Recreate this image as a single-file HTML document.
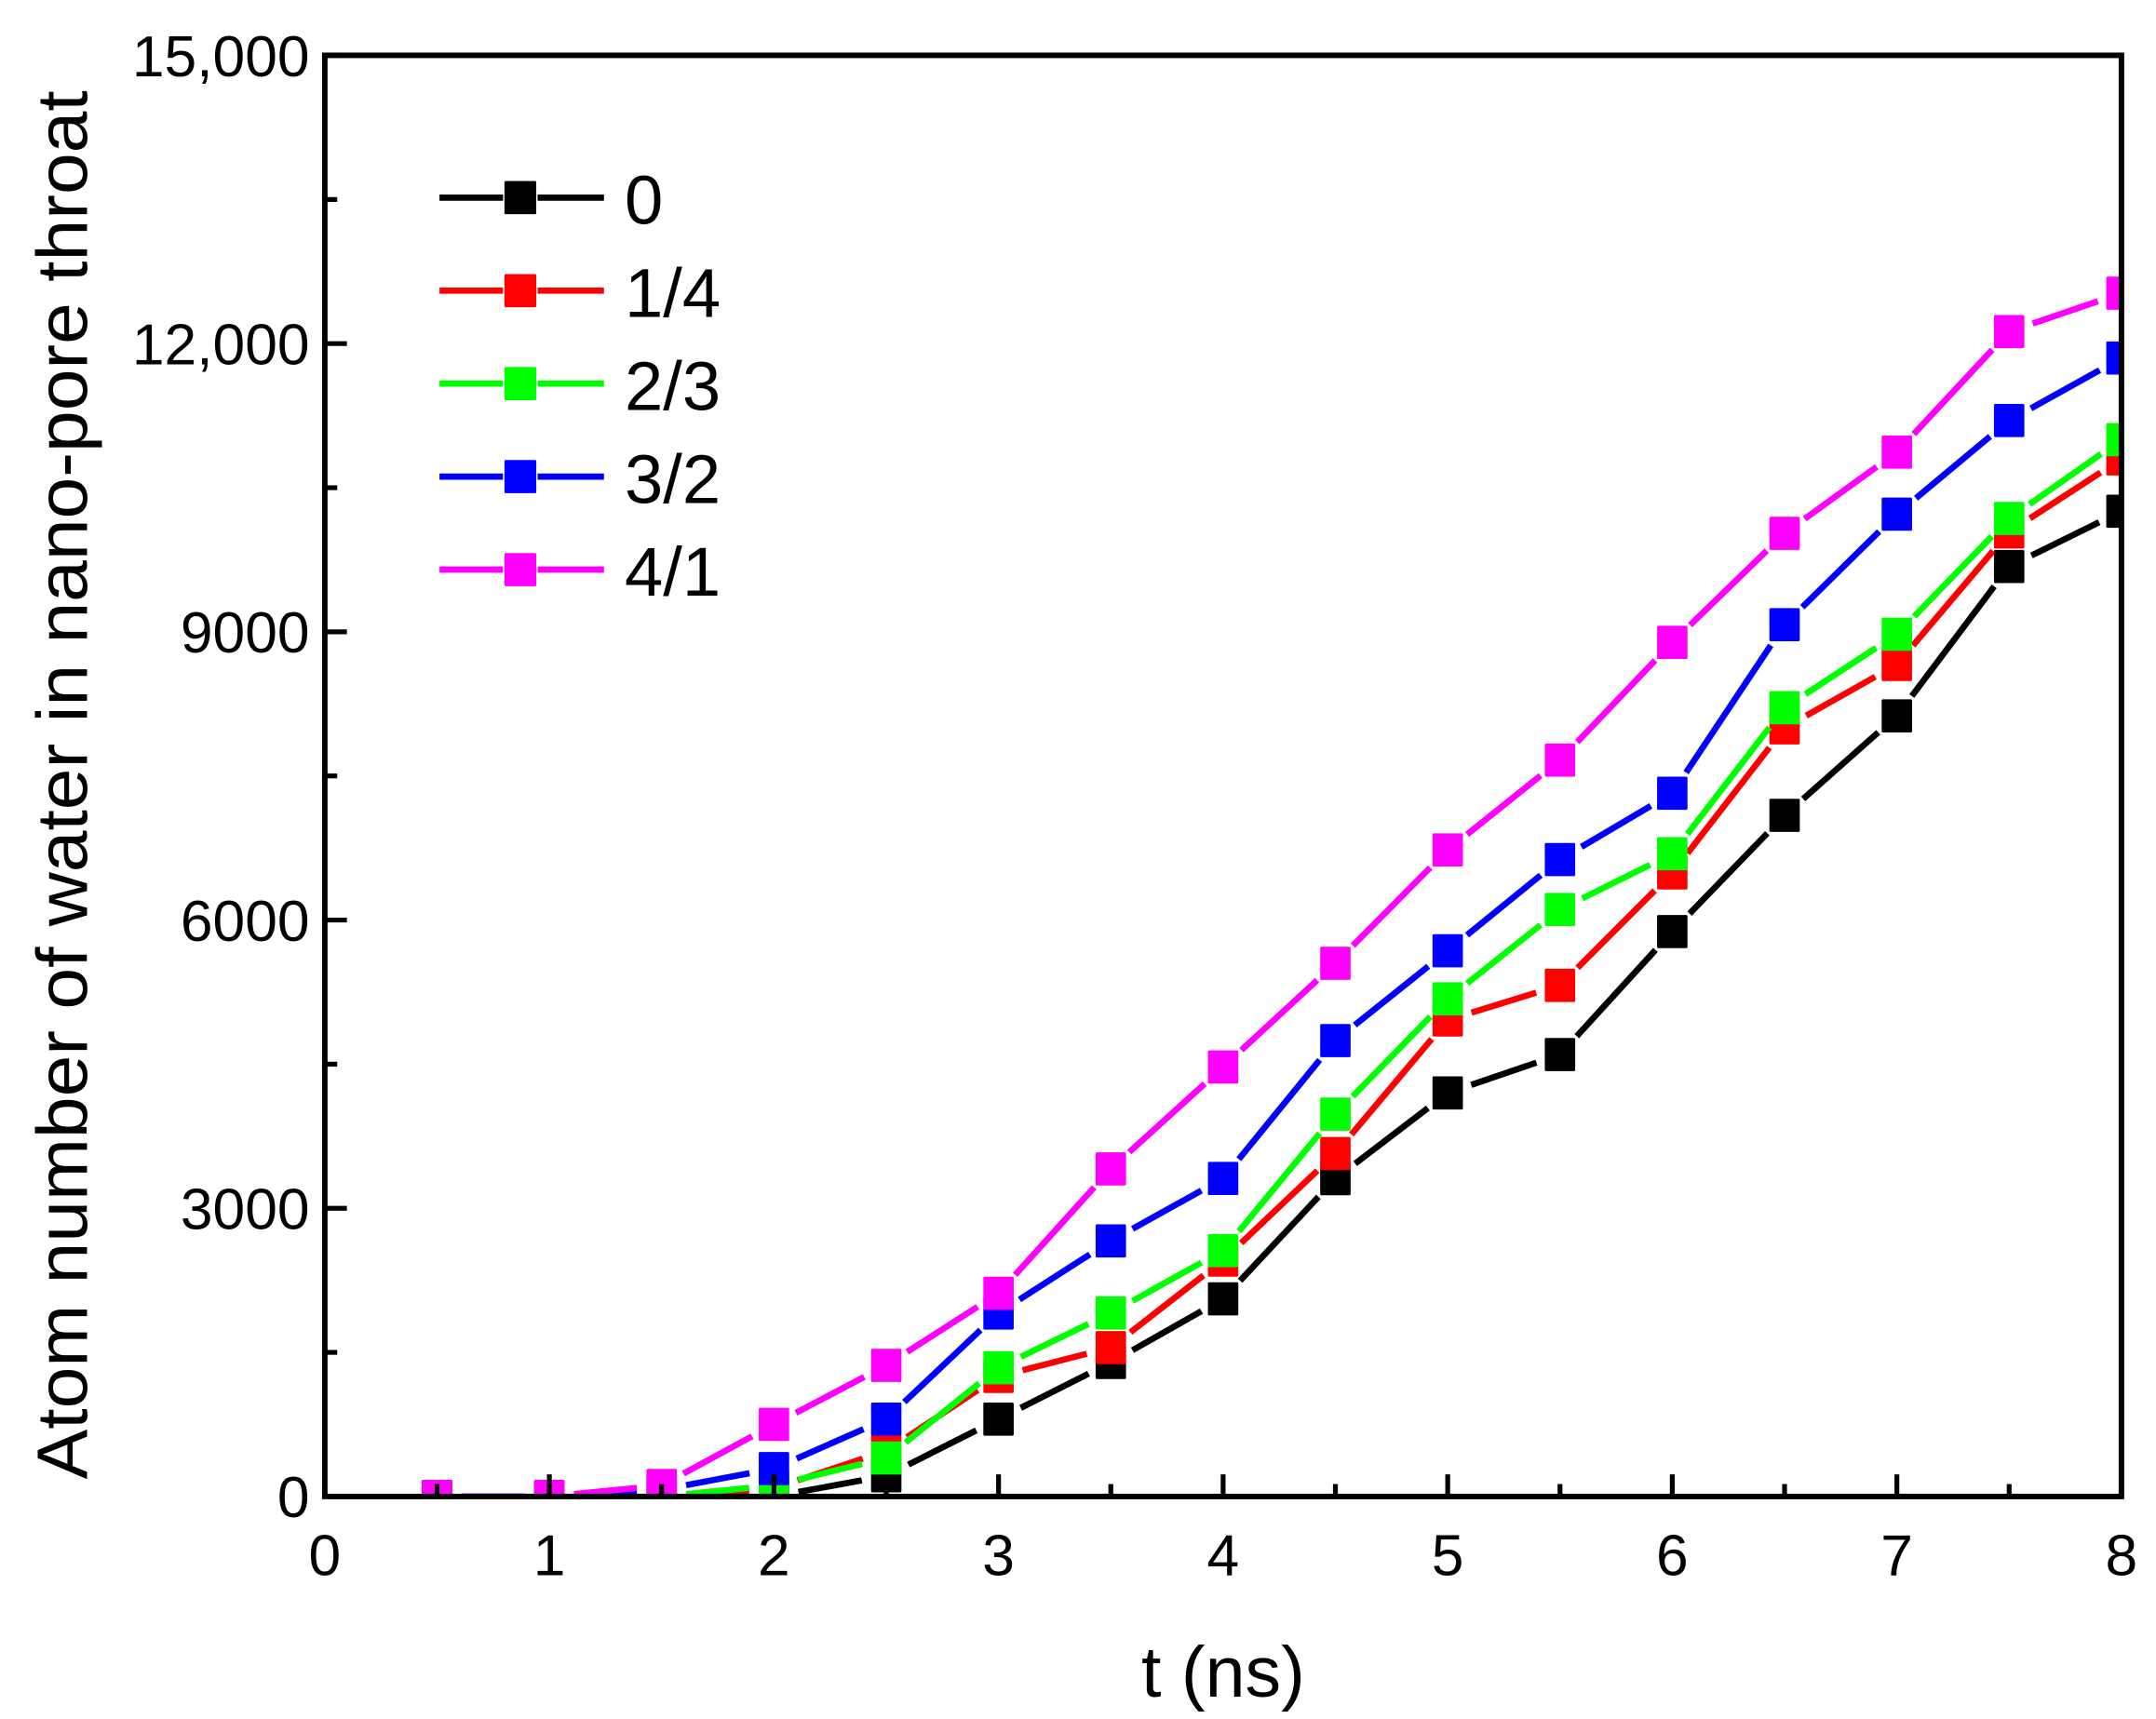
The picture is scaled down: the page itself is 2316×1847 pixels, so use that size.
<!DOCTYPE html>
<html><head><meta charset="utf-8"><style>
html,body{margin:0;padding:0;background:#fff}
svg{display:block}
text{font-family:"Liberation Sans",Arial,sans-serif;fill:#000}
</style></head><body>
<svg id="s" width="2316" height="1847" viewBox="0 0 1560 1244" xmlns="http://www.w3.org/2000/svg">
<defs><clipPath id="c"><rect x="235" y="40" width="1300" height="1043"/></clipPath></defs>
<g id="plot" clip-path="url(#c)"></g>
<g id="axes"></g>
<text x="885" y="1228" font-size="52" text-anchor="middle">t (ns)</text>
<text transform="translate(63,568) rotate(-90)" font-size="52" text-anchor="middle" textLength="1005" lengthAdjust="spacingAndGlyphs">Atom number of water in nano-pore throat</text>
<g id="leg"></g>
</svg>
<script>
var NS="http://www.w3.org/2000/svg";
function el(p,n,a,t){var e=document.createElementNS(NS,n);for(var k in a)e.setAttribute(k,a[k]);if(t!==undefined)e.textContent=t;p.appendChild(e);return e;}
var X=function(t){return 235+t*162.5};
var Y=function(v){return 1083-v*0.06953};
var ts=[0.5,1,1.5,2,2.5,3,3.5,4,4.5,5,5.5,6,6.5,7,7.5,8];
var series=[
["#000",[0,0,0,0,215,805,1395,2057,3308,4200,4600,5880,7090,8125,9680,10255]],
["#f00",[0,0,0,85,475,1250,1550,2460,3570,4960,5320,6490,8000,8660,10040,10800]],
["#0f0",[0,0,0,115,400,1340,1910,2560,3980,5180,6110,6690,8210,8975,10180,11000]],
["#00f",[0,0,70,290,805,1910,2660,3310,4745,5680,6630,7320,9075,10225,11200,11850]],
["#f0f",[0,0,115,750,1365,2115,3410,4470,5550,6730,7665,8890,10025,10870,12125,12525]]];
var plot=document.getElementById("plot");
var ms=22,gap=18;
series.forEach(function(s){
 var c=s[0],d=s[1];
 for(var i=0;i<d.length-1;i++){
  var x1=X(ts[i]),y1=Y(d[i]),x2=X(ts[i+1]),y2=Y(d[i+1]);
  var dx=x2-x1,dy=y2-y1,L=Math.sqrt(dx*dx+dy*dy);
  var ux=dx/L,uy=dy/L;
  el(plot,"line",{x1:x1+ux*gap,y1:y1+uy*gap,x2:x2-ux*gap,y2:y2-uy*gap,stroke:c,"stroke-width":4.5});
 }
 for(var i=0;i<d.length;i++){
  el(plot,"rect",{x:X(ts[i])-ms/2,y:Y(d[i])-ms/2-1,width:ms,height:ms+2,fill:c,rx:1});
 }
});
var ax=document.getElementById("axes");
el(ax,"rect",{x:235,y:40,width:1300,height:1043,fill:"none",stroke:"#000","stroke-width":4});
for(var t=0;t<=8;t+=0.5){
 var x=X(t),maj=(t%1===0);
 el(ax,"line",{x1:x,y1:1083,x2:x,y2:1083-(maj?16:9),stroke:"#000","stroke-width":3.5});
 if(maj)el(ax,"text",{x:x,y:1140,"font-size":42,"text-anchor":"middle"},String(t));
}
var ylab={0:"0",3000:"3000",6000:"6000",9000:"9000",12000:"12,000",15000:"15,000"};
for(var v=0;v<=15000;v+=1500){
 var y=Y(v),maj=(v%3000===0);
 el(ax,"line",{x1:235,y1:y,x2:235+(maj?16:9),y2:y,stroke:"#000","stroke-width":3.5});
 if(maj)el(ax,"text",{x:224,y:y+15,"font-size":42,"text-anchor":"end"},ylab[v]);
}
var leg=document.getElementById("leg");
var labs=["0","1/4","2/3","3/2","4/1"];
for(var i=0;i<5;i++){
 var y=143+i*67.3,c=series[i][0];
 el(leg,"line",{x1:318,y1:y,x2:364,y2:y,stroke:c,"stroke-width":4.5});
 el(leg,"line",{x1:389,y1:y,x2:437,y2:y,stroke:c,"stroke-width":4.5});
 el(leg,"rect",{x:365,y:y-12,width:23,height:24,fill:c,rx:1});
 el(leg,"text",{x:452,y:y+19,"font-size":50},labs[i]);
}
</script>
</body></html>
